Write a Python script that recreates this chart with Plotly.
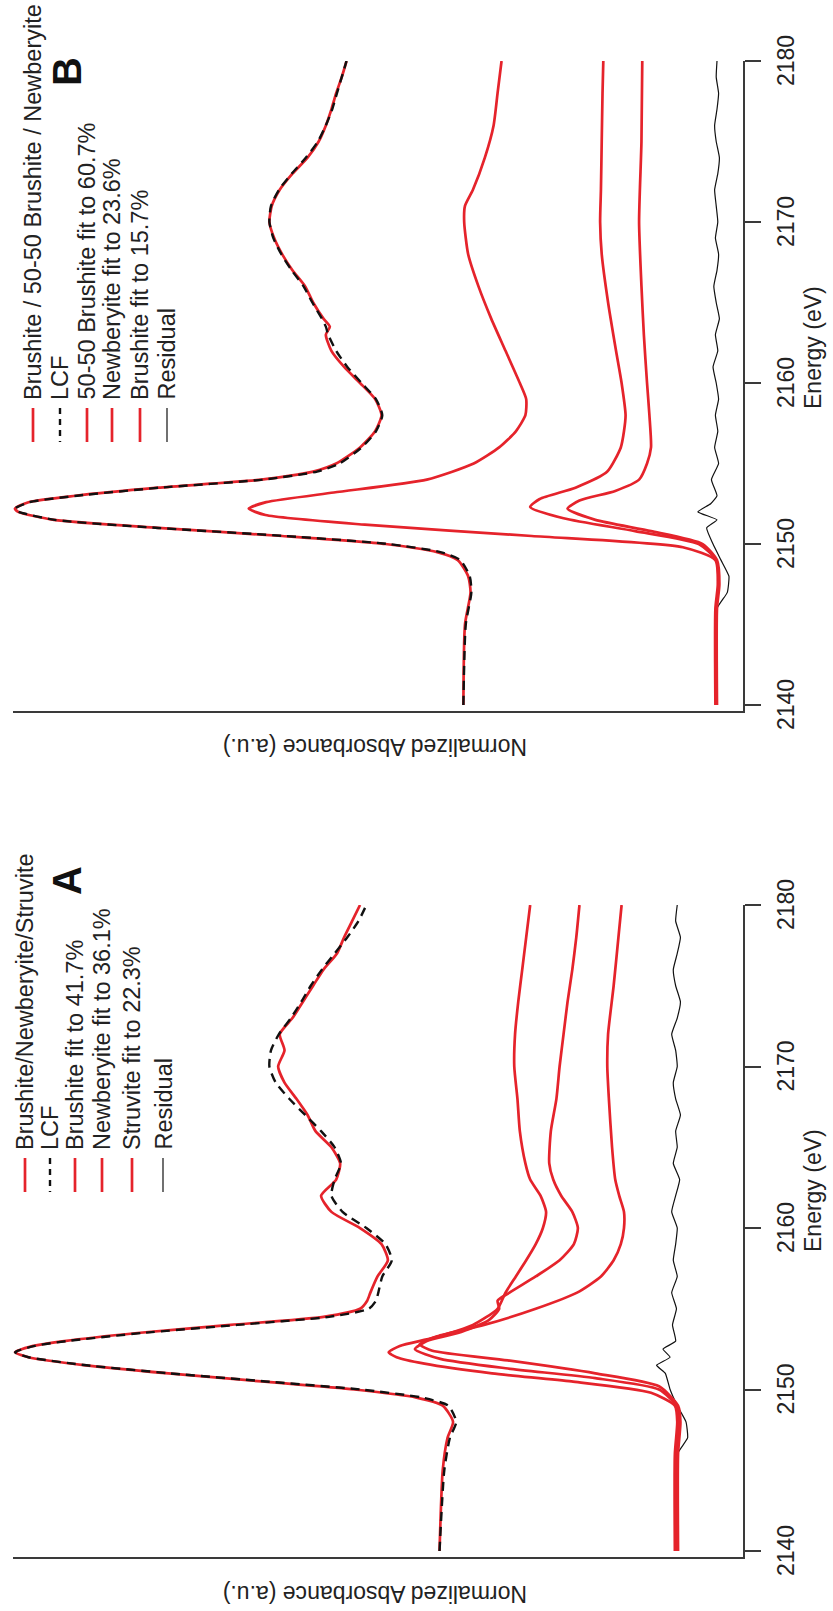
import plotly.graph_objects as go

# ---------------- Panel A : Brushite/Newberyite/Struvite ----------------
eA_data = [2140, 2145, 2147, 2148, 2149, 2149.5, 2150, 2150.5, 2151, 2151.5, 2152, 2152.3, 2152.7,
           2153, 2153.5, 2154, 2154.5, 2155, 2155.5, 2156, 2157, 2158, 2159, 2160, 2161, 2162, 2163,
           2164, 2165, 2166, 2167, 2168, 2169, 2170, 2171, 2172, 2173, 2174, 2175, 2176, 2177, 2178,
           2179, 2180]
aA_data = [46.6, 46.2, 45.6, 44.9, 46.2, 49.5, 57.3, 69.0, 80.7, 91.1, 98.3, 100.0, 97.7,
           93.8, 84.6, 72.9, 61.2, 56.6, 55.7, 55.3, 54.4, 53.1, 53.9, 56.6, 60.2, 61.5, 59.6,
           59.1, 60.2, 62.2, 63.2, 64.6, 66.1, 66.9, 66.1, 66.7, 65.1, 63.8, 62.5, 61.2, 59.5, 58.6,
           57.6, 56.6]
aA_lcf = [46.6, 46.0, 45.3, 44.5, 45.5, 48.8, 56.5, 68.5, 80.5, 91.0, 98.3, 100.0, 97.5,
          93.5, 84.0, 72.0, 60.5, 55.5, 54.6, 54.3, 53.8, 52.6, 53.4, 55.8, 58.8, 60.2, 59.8,
          59.0, 59.8, 61.5, 63.5, 65.5, 67.2, 68.0, 67.8, 66.8, 65.3, 64.0, 62.8, 61.4, 59.8, 58.2,
          56.8, 55.8]

eA_c1 = [2140, 2146, 2148, 2149, 2149.8, 2150.5, 2151, 2151.6, 2152, 2152.3, 2152.7, 2153.2, 2154,
         2155, 2156, 2157, 2158, 2159, 2160, 2161, 2162, 2163, 2164, 2166, 2168, 2170, 2172, 2174,
         2176, 2178, 2180]
aA_c1 = [17.0, 17.0, 16.7, 17.0, 20.0, 30.0, 40.0, 48.5, 52.0, 53.0, 51.6, 47.4, 42.4,
         39.3, 38.3, 37.0, 35.7, 34.5, 33.6, 33.2, 33.9, 35.2, 35.8, 36.5, 36.8, 37.2, 37.1, 36.7,
         36.2, 35.7, 35.2]

eA_c2 = [2140, 2146, 2148, 2149, 2150, 2150.7, 2151.3, 2151.9, 2152.5, 2153, 2153.5, 2154.3, 2155,
         2155.5, 2156, 2157, 2158, 2159, 2160, 2161, 2162, 2163, 2164, 2166, 2168, 2170, 2172, 2174,
         2176, 2178, 2180]
aA_c2 = [16.8, 16.8, 16.5, 16.8, 19.0, 27.0, 38.0, 46.5, 49.7, 48.2, 44.3, 40.4, 39.1,
         39.3, 37.8, 34.5, 31.5, 29.7, 29.2, 29.9, 31.3, 32.3, 32.8, 32.6, 31.9, 31.5, 31.0, 30.5,
         29.9, 29.4, 29.0]

eA_c3 = [2140, 2146, 2148, 2149, 2150.2, 2151, 2151.8, 2152.4, 2152.8, 2153.3, 2154, 2155, 2156,
         2157, 2158, 2159, 2160, 2161, 2162, 2163, 2165, 2168, 2170, 2172, 2175, 2178, 2180]
aA_c3 = [16.6, 16.6, 16.3, 16.6, 19.0, 27.0, 38.0, 47.5, 49.1, 46.9, 41.0, 34.5, 29.3,
         26.3, 24.7, 23.8, 23.4, 23.4, 24.0, 24.5, 24.9, 25.3, 25.5, 25.4, 24.7, 24.1, 23.7]

eA_res = [2140, 2143, 2146, 2147, 2148, 2149, 2150, 2151, 2151.5, 2152, 2152.5, 2153, 2154, 2155,
          2156, 2157, 2158, 2159, 2160, 2161, 2162, 2163, 2164, 2165, 2166, 2167, 2168, 2169, 2170,
          2171, 2172, 2173, 2174, 2175, 2176, 2177, 2178, 2179, 2180]
aA_res = [16.9, 16.9, 16.7, 15.4, 15.6, 16.7, 17.6, 18.2, 19.3, 17.6, 18.5, 16.9, 17.3, 16.8,
          17.4, 16.7, 17.2, 16.9, 16.7, 17.4, 16.9, 16.4, 17.2, 16.7, 16.9, 16.3, 16.9, 17.2, 16.7,
          16.9, 17.4, 16.7, 16.3, 16.9, 17.2, 16.7, 16.3, 16.9, 16.7]

# ---------------- Panel B : Brushite / 50-50 Brushite / Newberyite ----------------
eB_data = [2140, 2145, 2147, 2148, 2149, 2149.5, 2150, 2150.5, 2151, 2151.5, 2152, 2152.2, 2152.6,
           2153, 2153.5, 2154, 2154.5, 2155, 2156, 2157, 2158, 2159, 2160, 2161, 2162, 2163, 2163.5,
           2164, 2165, 2166, 2167, 2168, 2169, 2170, 2171, 2172, 2173, 2174, 2175, 2176, 2177, 2178,
           2179, 2180]
aB_data = [43.6, 43.4, 42.7, 43.0, 44.3, 46.9, 53.4, 66.4, 82.0, 95.1, 99.6, 100.0, 98.3,
           92.4, 82.0, 69.0, 62.5, 59.6, 56.6, 54.7, 53.9, 54.7, 56.6, 58.6, 60.2, 60.9, 60.4,
           61.2, 62.5, 63.5, 65.1, 66.4, 67.4, 68.0, 67.7, 66.7, 65.1, 63.2, 61.8, 60.9, 60.2, 59.6,
           58.9, 58.3]
aB_lcf = [43.6, 43.3, 42.6, 42.8, 44.0, 46.5, 53.0, 66.0, 82.0, 95.0, 99.5, 100.0, 98.2,
          92.2, 81.8, 68.8, 62.0, 59.2, 56.4, 54.6, 53.8, 54.6, 56.4, 58.2, 59.6, 60.6, 60.9,
          61.4, 62.6, 63.7, 65.2, 66.5, 67.5, 68.0, 67.8, 66.8, 65.2, 63.4, 61.9, 60.9, 60.1, 59.5,
          58.9, 58.3]

eB_c1 = [2140, 2146, 2147.5, 2149, 2149.8, 2150.5, 2151.2, 2151.8, 2152.2, 2152.6, 2153.2, 2154,
         2155, 2156, 2157, 2158, 2159, 2160, 2162, 2164, 2166, 2168, 2170, 2171, 2172, 2174, 2176,
         2178, 2180]
aB_c1 = [11.9, 11.9, 11.6, 11.9, 16.0, 35.0, 56.0, 68.5, 70.6, 68.4, 59.9, 48.2,
         42.3, 39.1, 37.0, 35.8, 35.7, 36.5, 38.3, 40.1, 41.7, 43.0, 43.5, 43.4, 42.4, 40.9, 39.8,
         39.3, 38.8]

eB_c2 = [2140, 2146, 2147.5, 2149, 2150, 2150.8, 2151.6, 2152.3, 2152.8, 2153.5, 2154.5, 2156,
         2157, 2158, 2160, 2162, 2165, 2168, 2170, 2172, 2175, 2178, 2180]
aB_c2 = [11.8, 11.8, 11.5, 11.8, 14.0, 22.0, 31.0, 35.2, 34.0, 29.5, 25.5, 23.8,
         23.4, 23.2, 23.7, 24.4, 25.4, 26.2, 26.4, 26.3, 26.2, 26.1, 26.0]

eB_c3 = [2140, 2146, 2147.5, 2149, 2150, 2150.8, 2151.5, 2152.2, 2152.7, 2153.3, 2154, 2155,
         2156, 2158, 2160, 2163, 2166, 2170, 2175, 2180]
aB_c3 = [11.7, 11.7, 11.4, 11.7, 13.5, 20.0, 27.0, 30.5, 29.0, 24.5, 21.5, 20.5,
         20.0, 20.2, 20.5, 20.9, 21.2, 21.5, 21.2, 21.1]

eB_res = [2140, 2143, 2146, 2147, 2148, 2149, 2150, 2151, 2151.5, 2152, 2152.5, 2153, 2154, 2155,
          2156, 2157, 2158, 2159, 2160, 2161, 2162, 2163, 2164, 2165, 2166, 2167, 2168, 2169, 2170,
          2171, 2172, 2173, 2174, 2175, 2176, 2177, 2178, 2179, 2180]
aB_res = [11.8, 11.8, 11.7, 10.4, 10.2, 11.2, 12.2, 13.0, 11.7, 14.1, 12.5, 11.7, 12.4, 11.5,
          12.0, 11.6, 11.9, 11.5, 11.8, 12.2, 11.6, 11.9, 11.4, 11.8, 12.1, 11.7, 11.5, 11.9, 11.6,
          11.8, 12.0, 11.6, 11.4, 11.8, 12.0, 11.7, 11.5, 11.8, 11.7]

tick_vals = [2140, 2150, 2160, 2170, 2180]
tick_text = ["2140", "2150", "2160", "2170", "2180"]

legend_A = ["Brushite/Newberyite/Struvite", "LCF", "Brushite fit to 41.7%",
            "Newberyite fit to 36.1%", "Struvite fit to 22.3%", "Residual"]
legend_B = ["Brushite / 50-50 Brushite / Newberyite", "LCF", "50-50 Brushite fit to 60.7%",
            "Newberyite fit to 23.6%", "Brushite fit to 15.7%", "Residual"]

# ---------------- styling ----------------
W, H = 833, 1611
RED = "#e5232b"
BLACK = "#111111"
AXC = "#3a3a3a"
TXT = "#222222"
FONT = "Liberation Sans"


def px(p):
    return p / W


def py(p):
    return 1 - p / H


fig = go.Figure()


def add_panel(xa, ya, series):
    for e, a, kind in series:
        if kind == "red":
            line = dict(color=RED, width=2.7, shape="spline", smoothing=0.6)
        elif kind == "lcf":
            line = dict(color=BLACK, width=2.4, dash="9px,6px", shape="spline", smoothing=0.6)
        else:
            line = dict(color=BLACK, width=1.2, shape="spline", smoothing=0.4)
        fig.add_trace(go.Scatter(x=a, y=e, mode="lines", line=line, xaxis=xa, yaxis=ya,
                                 showlegend=False, hoverinfo="skip"))


add_panel("x", "y", [(eA_res, aA_res, "res"), (eA_c1, aA_c1, "red"), (eA_c2, aA_c2, "red"),
                     (eA_c3, aA_c3, "red"), (eA_data, aA_data, "red"), (eA_data, aA_lcf, "lcf")])
add_panel("x2", "y2", [(eB_res, aB_res, "res"), (eB_c1, aB_c1, "red"), (eB_c2, aB_c2, "red"),
                       (eB_c3, aB_c3, "red"), (eB_data, aB_data, "red"), (eB_data, aB_lcf, "lcf")])

xcommon = dict(domain=[px(13), px(743)], range=[100.25, 8.43], showline=True, linecolor=AXC,
               linewidth=2, showticklabels=False, ticks="", showgrid=False, zeroline=False)
ycommon = dict(range=[2139.63, 2180], side="right", showline=True, linecolor=AXC, linewidth=2,
               ticks="outside", ticklen=16, tickwidth=2, tickcolor=AXC, tickvals=tick_vals,
               showticklabels=False, showgrid=False, zeroline=False)

fig.update_layout(
    width=W, height=H, margin=dict(l=0, r=0, t=0, b=0),
    paper_bgcolor="white", plot_bgcolor="white", showlegend=False,
    xaxis=dict(**xcommon, anchor="y"),
    yaxis=dict(**ycommon, anchor="x", domain=[py(1557), py(905)]),
    xaxis2=dict(**xcommon, anchor="y2"),
    yaxis2=dict(**ycommon, anchor="x2", domain=[py(711), py(61)]),
)

ann = []
shapes = []


def label(text, x, y, angle, size, yref="paper", xa="center", ya="middle", bold=False, color=TXT):
    ann.append(dict(text=("<b>%s</b>" % text) if bold else text, x=x, y=y, xref="paper", yref=yref,
                    textangle=angle, xanchor=xa, yanchor=ya, showarrow=False,
                    font=dict(family=FONT, size=size, color=color)))


def panel_text(letter, yref, letter_y, energy_title_y, absorb_y, rows_x, text_bottom, labels):
    for v, t in zip(tick_vals, tick_text):
        label(t, px(786), v, -90, 23, yref=yref)
    label(letter, px(67), py(letter_y), -90, 40, bold=True, color="#111")
    label("Energy (eV)", px(813), py(energy_title_y), -90, 23)
    label("Normalized Absorbance (a.u.)", px(375), py(absorb_y), 180, 23)
    kinds = ["red", "lcf", "red", "red", "red", "res"]
    for i, (lab, k) in enumerate(zip(labels, kinds)):
        xc = rows_x[i]
        label(lab, px(xc), py(text_bottom), -90, 23.5, ya="bottom")
        if k == "red":
            ln = dict(color=RED, width=2.7)
        elif k == "lcf":
            ln = dict(color=BLACK, width=2.4, dash="6px,5px")
        else:
            ln = dict(color=BLACK, width=1.2)
        shapes.append(dict(type="line", xref="paper", yref="paper", x0=px(xc), x1=px(xc),
                           y0=py(text_bottom + 6), y1=py(text_bottom + 40), line=ln))


panel_text("A", "y", 881, 1191, 1594, [25, 50, 75, 102, 132, 163], 1152, legend_A)
panel_text("B", "y2", 72, 348, 747, [33, 60, 87, 112, 140, 167], 402, legend_B)

fig.update_layout(annotations=ann, shapes=shapes)
fig.write_html(
    "out.html",
    config={"displayModeBar": False},
    post_script=("document.documentElement.style.margin='0px';"
                 "document.body.style.margin='0px';document.body.style.padding='0px';"
                 "document.documentElement.style.overflow='hidden';"
                 "document.body.style.overflow='hidden';"),
)
